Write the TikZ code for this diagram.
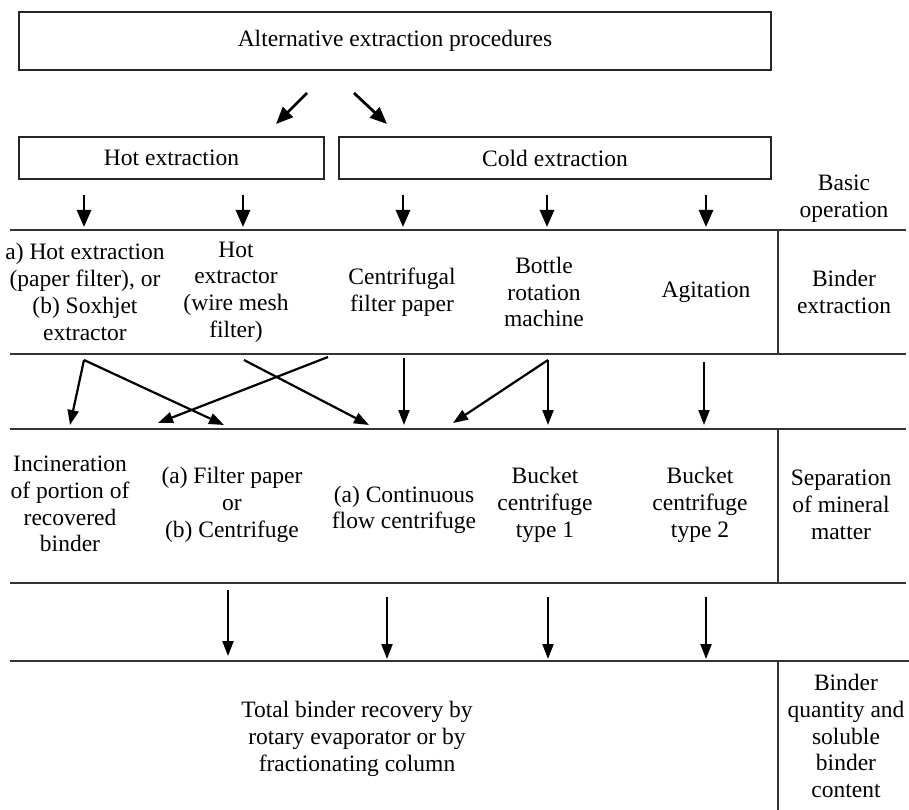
\documentclass[tikz,border=0pt]{standalone}
\usepackage{fontspec}
\setmainfont{Liberation Serif}
\usetikzlibrary{arrows.meta,positioning}

\tikzset{
  box/.style={draw=black!85, line width=2.6pt, inner sep=0pt,
    font=\fontsize{23.5}{26.7}\selectfont},
  cell/.style={align=center, inner sep=0pt, font=\fontsize{23.5}{26.7}\selectfont},
  rule/.style={draw=black!80, line width=2.4pt},
  flow/.style={-{Triangle[length=15pt,width=11pt]}, line width=2.2pt},
  bigflow/.style={-{Triangle[length=17pt,width=14pt]}, line width=2.8pt},
}

\begin{document}
\begin{tikzpicture}[x=1pt,y=-1pt]
  \useasboundingbox (0,0) rectangle (909,810);

  % boxes
  \node[box, minimum width=752pt, minimum height=58pt] (alt) at (395,41) {Alternative extraction procedures};
  \node[box, minimum width=305pt, minimum height=42pt] (hot) at (171.5,158) {Hot extraction};
  \node[box, minimum width=432pt, minimum height=42pt] (cold) at (555,158) {Cold extraction};

  % table rules
  \draw[rule] (10,230) -- (906,230);
  \draw[rule] (10,354) -- (906,354);
  \draw[rule] (10,429) -- (906,429);
  \draw[rule] (10,583) -- (906,583);
  \draw[rule] (10,661) -- (909,661);
  \draw[rule, line width=1.8pt] (778,230) -- (778,354);
  \draw[rule, line width=1.8pt] (778,429) -- (778,583);
  \draw[rule, line width=1.8pt] (778,661) -- (778,810);

  % row labels
  \node[cell] (basic) at (844,199) {Basic\\operation};
  \node[cell] (binderex) at (844,292) {Binder\\extraction};
  \node[cell] (separation) at (841,505) {Separation\\of mineral\\matter};
  \node[cell] (quantity) at (846,736) {Binder\\quantity and\\soluble\\binder\\content};

  % binder extraction
  \node[cell] (hotpaper) at (85,292) {a) Hot extraction\\(paper filter), or\\(b) Soxhjet\\extractor};
  \node[cell] (hotmesh) at (236,292) {Hot\\extractor\\(wire mesh\\filter)};
  \node[cell] (centpaper) at (402,292) {Centrifugal\\filter paper};
  \node[cell] (bottle) at (544,292) {Bottle\\rotation\\machine};
  \node[cell] (agitation) at (706,292) {Agitation};

  % separation of mineral matter
  \node[cell] (incineration) at (70,504) {Incineration\\of portion of\\recovered\\binder};
  \node[cell] (filterorcent) at (232,505) {(a) Filter paper\\or\\(b) Centrifuge};
  \node[cell] (continuous) at (404,510) {(a) Continuous\\flow centrifuge};
  \node[cell] (bucket1) at (545,505) {Bucket\\centrifuge\\type 1};
  \node[cell] (bucket2) at (700,505) {Bucket\\centrifuge\\type 2};

  % recovery
  \node[cell] (total) at (357,739) {Total binder recovery by\\rotary evaporator or by\\fractionating column};

  % arrow ends
  \coordinate (altL) at (307,93);   \coordinate (hotIn) at (276,124);
  \coordinate (altR) at (354,93);   \coordinate (coldIn) at (387,124);
  \coordinate (op1) at (84,195);    \coordinate (ex1) at (84,227);
  \coordinate (op2) at (243,195);   \coordinate (ex2) at (243,227);
  \coordinate (op3) at (403,195);   \coordinate (ex3) at (403,227);
  \coordinate (op4) at (547,195);   \coordinate (ex4) at (547,227);
  \coordinate (op5) at (706,195);   \coordinate (ex5) at (706,227);
  \coordinate (hp) at (84,360);     \coordinate (hm) at (244,360);
  \coordinate (hmx) at (328,357);   \coordinate (cp) at (404,358);
  \coordinate (bt) at (548,360);    \coordinate (ag) at (704,362);
  \coordinate (toInc) at (70,425);  \coordinate (toFil) at (224,425);
  \coordinate (toFil2) at (158,423); \coordinate (toCon) at (369,425);
  \coordinate (toCon2) at (404,425); \coordinate (toCon3) at (453,423);
  \coordinate (toB1) at (548,425);  \coordinate (toB2) at (704,425);
  \coordinate (sf) at (228,590);    \coordinate (rf) at (228,656);
  \coordinate (sc) at (387,597);    \coordinate (rc) at (387,659);
  \coordinate (sb1) at (548,597);   \coordinate (rb1) at (548,659);
  \coordinate (sb2) at (706,597);   \coordinate (rb2) at (706,659);

  \path[bigflow]
      (altL) edge (hotIn)
      (altR) edge (coldIn)
      (op1) edge (ex1)
      (op2) edge (ex2)
      (op3) edge (ex3)
      (op4) edge (ex4)
      (op5) edge (ex5);
  \path[flow]
      (hp) edge (toInc)
      (hp) edge (toFil)
      (hmx) edge (toFil2)
      (hm) edge (toCon)
      (cp) edge (toCon2)
      (bt) edge (toCon3)
      (bt) edge (toB1)
      (ag) edge (toB2)
      (sf) edge (rf)
      (sc) edge (rc)
      (sb1) edge (rb1)
      (sb2) edge (rb2);
\end{tikzpicture}
\end{document}
